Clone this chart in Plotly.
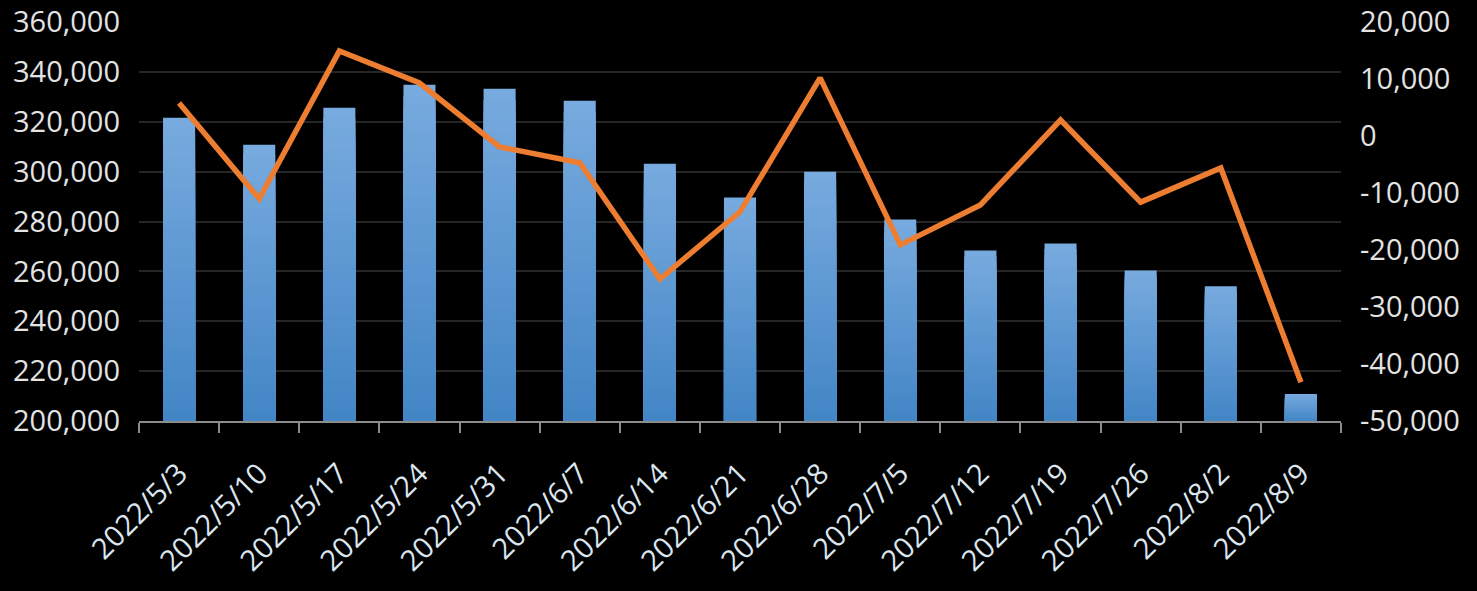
import plotly.graph_objects as go

dates = ["2022/5/3", "2022/5/10", "2022/5/17", "2022/5/24", "2022/5/31", "2022/6/7",
         "2022/6/14", "2022/6/21", "2022/6/28", "2022/7/5", "2022/7/12", "2022/7/19",
         "2022/7/26", "2022/8/2", "2022/8/9"]
bar_values = [321600, 310800, 325600, 334800, 333200, 328400, 303200, 289600,
              300000, 280800, 268400, 271200, 260400, 254000, 210800]
line_values = [5800, -11000, 14900, 9300, -1900, -4700, -25100, -13300,
               10200, -19100, -12100, 2800, -11600, -5600, -43200]

left_ticks = [200000, 220000, 240000, 260000, 280000, 300000, 320000, 340000, 360000]
right_ticks = [-50000, -40000, -30000, -20000, -10000, 0, 10000, 20000]

BASE = 200000
N_SEG = 30
top_rgb = (0x77, 0xAA, 0xDE)
bot_rgb = (0x43, 0x86, 0xC6)

fig = go.Figure()
# gradient bars: tallest (lightest) first, shorter darker overlays on top
for k in range(N_SEG - 1, -1, -1):
    t = k / (N_SEG - 1)
    c = tuple(round(bot_rgb[i] + (top_rgb[i] - bot_rgb[i]) * t) for i in range(3))
    heights = [(v - BASE) * (k + 1) / N_SEG for v in bar_values]
    fig.add_trace(go.Bar(
        x=dates, y=heights, base=BASE,
        marker=dict(color="rgb(%d,%d,%d)" % c, line=dict(width=0)),
        width=0.4, showlegend=False,
        hoverinfo="skip" if k != N_SEG - 1 else None,
        customdata=bar_values if k == N_SEG - 1 else None,
        hovertemplate="%{x}: %{customdata:,}<extra></extra>" if k == N_SEG - 1 else None,
    ))

fig.add_trace(go.Scatter(
    x=dates, y=line_values, yaxis="y2", mode="lines",
    line=dict(color="#ED7D31", width=5.5), showlegend=False,
))

font = dict(family="Open Sans, Noto Sans, sans-serif", size=29, color="#E3E3E3")
fig.update_layout(
    width=1477, height=591,
    margin=dict(l=139, r=136, t=22, b=170, autoexpand=False),
    paper_bgcolor="#000000", plot_bgcolor="#000000",
    barmode="overlay",
    font=font,
    xaxis=dict(
        type="category", tickangle=-45, tickson="boundaries",
        ticks="outside", ticklen=10, tickcolor="#8C8C8C", tickwidth=2,
        showline=True, linecolor="#8C8C8C", linewidth=2,
        showgrid=False, tickfont=dict(size=29, color="#DCE6F0"),
        range=[-0.5, len(dates) - 0.5], automargin=False,
        ticklabeloverflow="allow", ticklabelstandoff=22,
    ),
    yaxis=dict(
        range=[200000, 360000], tickvals=left_ticks,
        ticktext=[f"{v:,}" for v in left_ticks],
        showgrid=True, gridcolor="#262626", gridwidth=2, zeroline=False,
        ticks="", ticklabelstandoff=18, automargin=False,
        ticklabeloverflow="allow",
    ),
    yaxis2=dict(
        range=[-50000, 20000], tickvals=right_ticks,
        ticktext=[f"{v:,}" for v in right_ticks],
        overlaying="y", side="right", showgrid=False, zeroline=False,
        ticks="", ticklabelstandoff=18, automargin=False,
        ticklabeloverflow="allow",
    ),
)

fig.write_html("out.html", config={"displayModeBar": False},
               post_script="document.body.style.margin='0';document.body.style.background='#000';")
